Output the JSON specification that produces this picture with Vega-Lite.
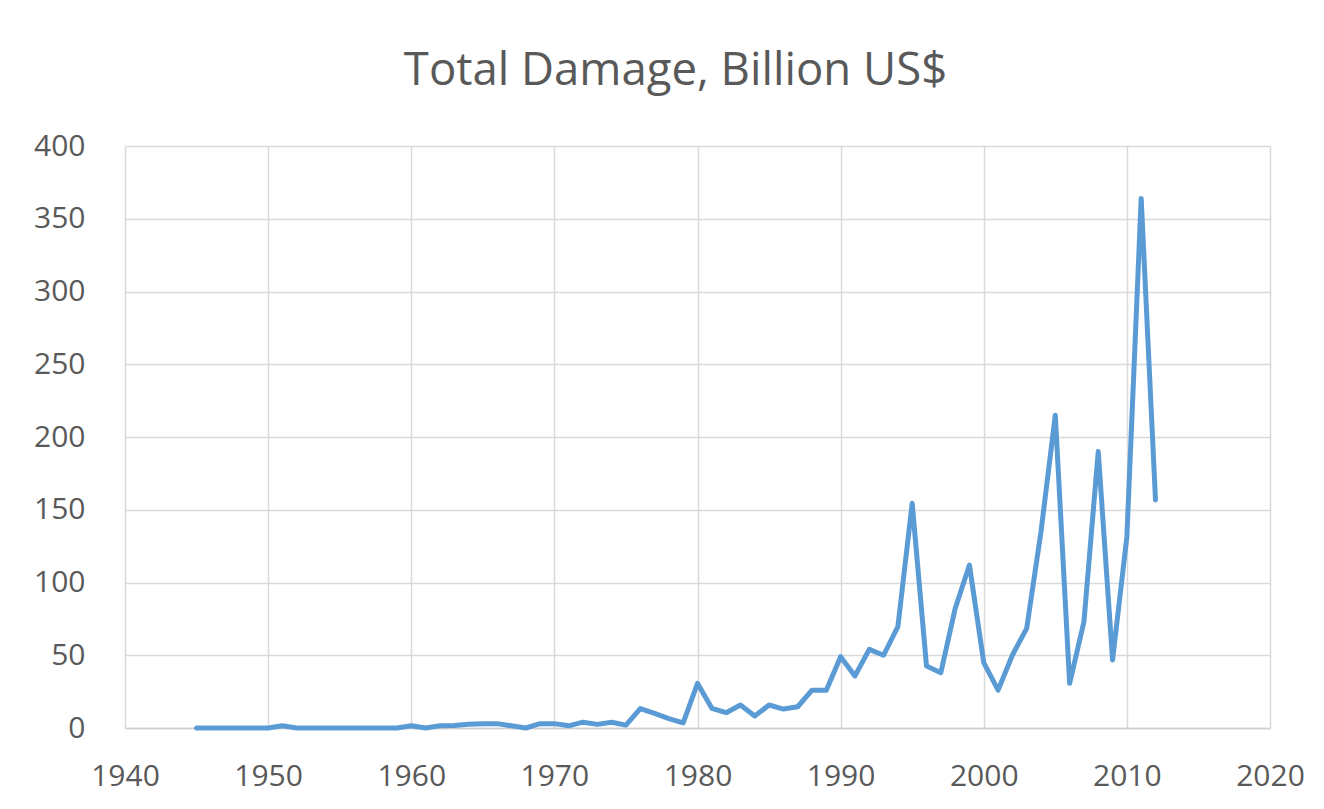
{
  "$schema": "https://vega.github.io/schema/vega-lite/v6.json",
  "width": 1145,
  "height": 582,
  "autosize": {"type": "none"},
  "padding": {"left": 125, "top": 146, "right": 54, "bottom": 81},
  "background": "white",
  "title": {
    "text": "Total Damage, Billion US$",
    "font": "Open Sans",
    "fontSize": 45.5,
    "fontWeight": "normal",
    "color": "#595959",
    "anchor": "middle",
    "frame": "group",
    "baseline": "alphabetic",
    "dx": -22,
    "offset": 1
  },
  "data": {
    "values": [
      {"year": 1945, "damage": 0}, {"year": 1946, "damage": 0}, {"year": 1947, "damage": 0},
      {"year": 1948, "damage": 0}, {"year": 1949, "damage": 0}, {"year": 1950, "damage": 0},
      {"year": 1951, "damage": 1.5}, {"year": 1952, "damage": 0}, {"year": 1953, "damage": 0},
      {"year": 1954, "damage": 0}, {"year": 1955, "damage": 0}, {"year": 1956, "damage": 0},
      {"year": 1957, "damage": 0}, {"year": 1958, "damage": 0}, {"year": 1959, "damage": 0},
      {"year": 1960, "damage": 1.5}, {"year": 1961, "damage": 0}, {"year": 1962, "damage": 1.5},
      {"year": 1963, "damage": 1.7}, {"year": 1964, "damage": 2.5}, {"year": 1965, "damage": 3},
      {"year": 1966, "damage": 3}, {"year": 1967, "damage": 1.5}, {"year": 1968, "damage": 0},
      {"year": 1969, "damage": 3}, {"year": 1970, "damage": 3}, {"year": 1971, "damage": 1.5},
      {"year": 1972, "damage": 4}, {"year": 1973, "damage": 2.5}, {"year": 1974, "damage": 4},
      {"year": 1975, "damage": 2}, {"year": 1976, "damage": 13.3}, {"year": 1977, "damage": 10},
      {"year": 1978, "damage": 6.5}, {"year": 1979, "damage": 3.5}, {"year": 1980, "damage": 30.7},
      {"year": 1981, "damage": 13.5}, {"year": 1982, "damage": 10.5}, {"year": 1983, "damage": 15.8},
      {"year": 1984, "damage": 8.2}, {"year": 1985, "damage": 15.8}, {"year": 1986, "damage": 13},
      {"year": 1987, "damage": 14.6}, {"year": 1988, "damage": 26}, {"year": 1989, "damage": 26},
      {"year": 1990, "damage": 49}, {"year": 1991, "damage": 35.7}, {"year": 1992, "damage": 54},
      {"year": 1993, "damage": 50}, {"year": 1994, "damage": 69.6}, {"year": 1995, "damage": 154.4},
      {"year": 1996, "damage": 42.6}, {"year": 1997, "damage": 38}, {"year": 1998, "damage": 82},
      {"year": 1999, "damage": 112}, {"year": 2000, "damage": 45}, {"year": 2001, "damage": 26},
      {"year": 2002, "damage": 50}, {"year": 2003, "damage": 68.5}, {"year": 2004, "damage": 135},
      {"year": 2005, "damage": 215}, {"year": 2006, "damage": 30.7}, {"year": 2007, "damage": 73},
      {"year": 2008, "damage": 190}, {"year": 2009, "damage": 46.7}, {"year": 2010, "damage": 131.5},
      {"year": 2011, "damage": 364}, {"year": 2012, "damage": 156.7}
    ]
  },
  "mark": {"type": "line", "color": "#5b9bd5", "strokeWidth": 5, "strokeCap": "round", "strokeJoin": "round"},
  "encoding": {
    "x": {
      "field": "year",
      "type": "quantitative",
      "scale": {"domain": [1940, 2020], "nice": false, "zero": false},
      "axis": {
        "title": null,
        "values": [1940, 1950, 1960, 1970, 1980, 1990, 2000, 2010, 2020],
        "format": "d",
        "labelFlush": false,
        "labelOverlap": false,
        "labelPadding": 33,
        "domain": true,
        "domainColor": "#d0d0d0",
        "domainWidth": 1.5
      }
    },
    "y": {
      "field": "damage",
      "type": "quantitative",
      "scale": {"domain": [0, 400], "nice": false},
      "axis": {
        "title": null,
        "values": [0, 50, 100, 150, 200, 250, 300, 350, 400],
        "labelFlush": false,
        "labelOverlap": false,
        "labelPadding": 40,
        "domain": false
      }
    }
  },
  "config": {
    "view": {"stroke": null},
    "axis": {
      "labelFont": "Open Sans",
      "labelFontSize": 30,
      "labelColor": "#595959",
      "grid": true,
      "gridColor": "#d9d9d9",
      "gridWidth": 1.5,
      "ticks": false
    }
  }
}
